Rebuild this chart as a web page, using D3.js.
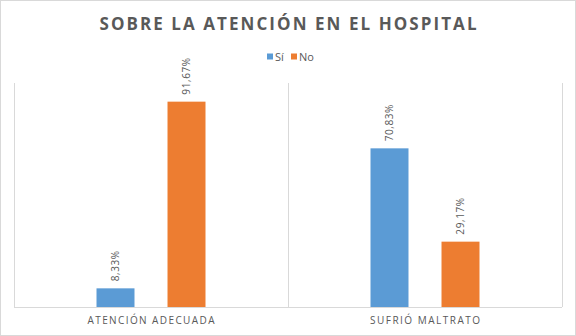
<!DOCTYPE html>
<html><head><meta charset="utf-8">
<script src="https://cdn.jsdelivr.net/npm/d3@7"></script>
<style>body{margin:0;background:#fff}svg{display:block}</style>
</head><body>
<svg id="c" width="576" height="336"></svg>
<script>
const categories = ["ATENCIÓN ADECUADA", "SUFRIÓ MALTRATO"];
const seriesNames = ["Sí", "No"];
const siValues = [8.33, 70.83];
const noValues = [91.67, 29.17];
const yDomain = [0, 100];
const colors = ["#5B9BD5", "#ED7D31"];

const svg = d3.select("#c");
const W = 576, H = 336;
const m = {left: 14, right: 14, top: 83, bottom: 29};
const pw = W - m.left - m.right, ph = H - m.top - m.bottom;

svg.append("rect").attr("x",0.5).attr("y",0.5).attr("width",W-1).attr("height",H-1)
  .attr("fill","#fff").attr("stroke","#D9D9D9");

const x = d3.scaleBand().domain(categories).range([m.left, m.left+pw]).paddingInner(0).paddingOuter(0);
const y = d3.scaleLinear().domain(yDomain).range([m.top+ph, m.top]);
const inner = d3.scaleBand().domain(seriesNames).range([0, x.bandwidth()]).paddingInner(0.465).paddingOuter(1.162);

// category separators
const bounds = categories.map(c => x(c)).concat([m.left+pw]);
svg.append("g").selectAll("line").data(bounds).join("line")
  .attr("x1", d=>Math.round(d)+0.5).attr("x2", d=>Math.round(d)+0.5)
  .attr("y1", y(yDomain[1])).attr("y2", y(0))
  .attr("stroke","#D9D9D9").attr("stroke-width",1);
svg.append("line").attr("x1", m.left).attr("x2", m.left+pw)
  .attr("y1", Math.round(y(0))+0.5).attr("y2", Math.round(y(0))+0.5)
  .attr("stroke","#D9D9D9");

const data = [];
categories.forEach((c,i)=>{
  data.push({cat:c, s:seriesNames[0], v:siValues[i], col:colors[0]});
  data.push({cat:c, s:seriesNames[1], v:noValues[i], col:colors[1]});
});

svg.append("g").selectAll("rect").data(data).join("rect")
  .attr("x", d=>x(d.cat)+inner(d.s))
  .attr("width", inner.bandwidth())
  .attr("y", d=>y(d.v))
  .attr("height", d=>y(0)-y(d.v))
  .attr("fill", d=>d.col);

const fmt = v => v.toFixed(2).replace(".", ",") + "%";
svg.append("g").selectAll("text").data(data).join("text")
  .attr("transform", d=>`translate(${x(d.cat)+inner(d.s)+inner.bandwidth()/2},${y(d.v)-7}) rotate(-90)`)
  .attr("dy","0.35em")
  .attr("text-anchor","start")
  .attr("font-family","'Open Sans', sans-serif")
  .attr("font-size","10px")
  .attr("letter-spacing","0.6px")
  .attr("fill","#595959")
  .text(d=>fmt(d.v));

// category labels
const catW = [127, 110];
svg.append("g").selectAll("text").data(categories).join("text")
  .attr("x", d=>x(d)+x.bandwidth()/2)
  .attr("y", 324)
  .attr("text-anchor","middle")
  .attr("font-family","'Open Sans', sans-serif")
  .attr("font-size","10px")
  .attr("fill","#595959")
  .attr("textLength",(d,i)=>catW[i])
  .attr("lengthAdjust","spacing")
  .text(d=>d);

// title
svg.append("text").attr("x", 288).attr("y", 30).attr("text-anchor","middle")
  .attr("font-family","'Open Sans', sans-serif").attr("font-weight","bold")
  .attr("font-size","17px").attr("fill","#595959")
  .attr("textLength",377).attr("lengthAdjust","spacing")
  .text("SOBRE LA ATENCIÓN EN EL HOSPITAL");

// legend
const leg = svg.append("g");
const legX = [267, 291];
seriesNames.forEach((s,i)=>{
  leg.append("rect").attr("x",legX[i]).attr("y",53.5).attr("width",6).attr("height",6).attr("fill",colors[i]);
  leg.append("text").attr("x",legX[i]+8).attr("y",60.5)
    .attr("font-family","'Open Sans', sans-serif").attr("font-size","11px").attr("fill","#595959").text(s);
});
</script>
</body></html>
